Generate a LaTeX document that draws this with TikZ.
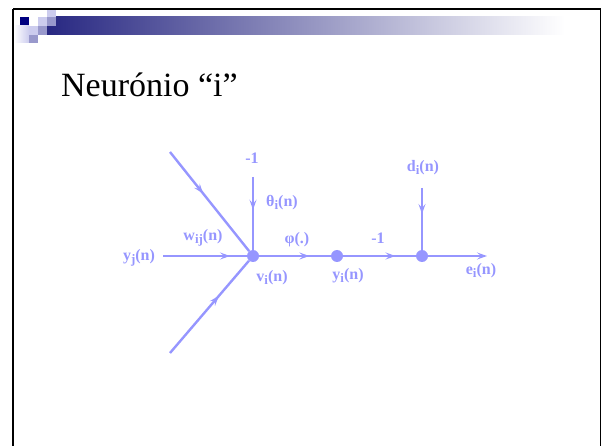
\documentclass[tikz,border=0pt]{standalone}
\usepackage{fontspec}
\setmainfont{Liberation Serif}
\usetikzlibrary{arrows.meta,decorations.markings}

\definecolor{sig}{RGB}{150,150,255}
\definecolor{navyd}{RGB}{0,0,128}
\definecolor{barnavy}{RGB}{40,40,130}
\definecolor{lilac}{RGB}{204,204,238}
\definecolor{lilacm}{RGB}{153,153,204}

\newcommand{\lowidx}[1]{\raisebox{-0.35ex}{\fontsize{13}{14}\selectfont #1}}

\tikzset{
  flow/.style={draw=sig, line width=2.4pt},
  midarrow/.style={postaction={decorate}, decoration={markings,
      mark=at position #1 with {\arrow{Stealth[length=10pt,width=7pt,inset=4pt]}}}},
  junction/.style={circle, fill=sig, inner sep=0pt, minimum size=12pt},
  lbl/.style={text=sig, font=\fontsize{16}{18}\selectfont\bfseries, inner sep=1pt},
}

\begin{document}
\begin{tikzpicture}[x=1pt, y=-1pt]
	\useasboundingbox (0,0) rectangle (602,446);
	% slide header
	\shade[left color=barnavy, right color=white] (47,17) rectangle (565,35);
	\fill[navyd] (20,17) rectangle (29,26);
	\fill[lilac] (38,17) rectangle (47,26);
	\fill[lilacm] (47,17) rectangle (56,26);
	\fill[lilac] (47,9) rectangle (56,17);
	\fill[lilac] (29,26) rectangle (38,35);
	\fill[lilacm] (38,26) rectangle (47,35);
	\shade[left color=white, right color=lilac] (14,26) rectangle (29,43);
	\fill[lilacm] (29,35) rectangle (38,43);
	\draw[line width=1.5pt] (13,9) -- (601,9);
	\draw[line width=2.5pt] (13,9) -- (13,446);
	\draw[line width=1.5pt] (600.5,9) -- (600.5,446);
	\node[anchor=base west, inner sep=0pt, font=\fontsize{34}{40}\selectfont] (title) at (61,97) {Neurónio “i”};

	% signal flow graph
	\node[junction] (v) at (253,256) {};
	\node[junction] (yo) at (337,256) {};
	\node[junction] (d) at (422,256) {};
	\coordinate (inA) at (170,152);
	\coordinate (inB) at (170,353);
	\coordinate (inJ) at (163,256);
	\coordinate (bias) at (253,177);
	\coordinate (dsrc) at (422,188);
	\coordinate (eout) at (487,256);

	\draw[flow, midarrow=0.42] (inA) -- (v);
	\draw[flow, midarrow=0.62] (inB) -- (v);
	\draw[flow, midarrow=0.8] (inJ) -- (v);
	\draw[flow, midarrow=0.45] (bias) -- (v);
	\draw[flow, midarrow=0.7] (v) -- (yo);
	\draw[flow, midarrow=0.72] (yo) -- (d);
	\draw[flow, midarrow=0.42] (dsrc) -- (d);
	\draw[flow, -{Stealth[length=10pt,width=7pt,inset=4pt]}] (d) -- (eout);

	\node[lbl] (m1) at (252,158) {-1};
	\node[lbl] (theta) at (282,203) {θ\lowidx{i}(n)};
	\node[lbl] (yj) at (139,258) {y\lowidx{j}(n)};
	\node[lbl] (wij) at (203,238) {w\lowidx{ij}(n)};
	\node[lbl] (vi) at (272,278) {v\lowidx{i}(n)};
	\node[lbl] (phi) at (297,240) {φ(.)};
	\node[lbl] (yi) at (348,276) {y\lowidx{i}(n)};
	\node[lbl] (m2) at (378,238) {-1};
	\node[lbl] (di) at (423,168) {d\lowidx{i}(n)};
	\node[lbl] (ei) at (481,271) {e\lowidx{i}(n)};
\end{tikzpicture}
\end{document}
